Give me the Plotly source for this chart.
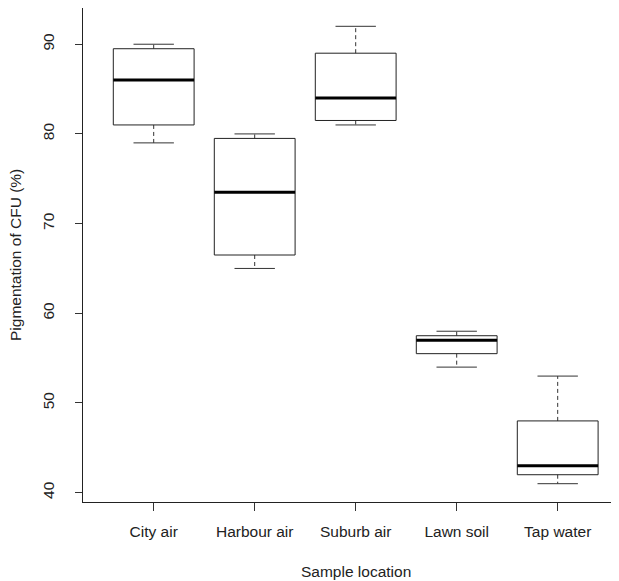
import plotly.graph_objects as go

categories = ["City air", "Harbour air", "Suburb air", "Lawn soil", "Tap water"]
whisker_low = [79, 65, 81, 54, 41]
q1 = [81, 66.5, 81.5, 55.5, 42]
median = [86, 73.5, 84, 57, 43]
q3 = [89.5, 79.5, 89, 57.5, 48]
whisker_high = [90, 80, 92, 58, 53]
y_ticks = [40, 50, 60, 70, 80, 90]

positions = list(range(1, len(categories) + 1))
box_half = 0.4
staple_half = 0.2

box_x, box_y = [], []
med_x, med_y = [], []
wh_x, wh_y = [], []
st_x, st_y = [], []
for p, lo, a, m, b, hi in zip(positions, whisker_low, q1, median, q3, whisker_high):
    box_x += [p - box_half, p + box_half, p + box_half, p - box_half, p - box_half, None]
    box_y += [a, a, b, b, a, None]
    med_x += [p - box_half, p + box_half, None]
    med_y += [m, m, None]
    wh_x += [p, p, None, p, p, None]
    wh_y += [b, hi, None, a, lo, None]
    st_x += [p - staple_half, p + staple_half, None, p - staple_half, p + staple_half, None]
    st_y += [hi, hi, None, lo, lo, None]

fig = go.Figure()
fig.add_trace(go.Scatter(x=wh_x, y=wh_y, mode="lines",
                         line=dict(color="#333333", width=1, dash="4px,3px"),
                         hoverinfo="skip", showlegend=False))
fig.add_trace(go.Scatter(x=st_x, y=st_y, mode="lines",
                         line=dict(color="#333333", width=1),
                         hoverinfo="skip", showlegend=False))
fig.add_trace(go.Scatter(x=box_x, y=box_y, mode="lines",
                         line=dict(color="#222222", width=1),
                         hoverinfo="skip", showlegend=False))
fig.add_trace(go.Scatter(x=med_x, y=med_y, mode="lines",
                         line=dict(color="black", width=3),
                         hoverinfo="skip", showlegend=False))

font = dict(family="Liberation Sans, Arial, sans-serif", size=15.5, color="#222222")

fig.update_layout(
    width=619, height=581,
    margin=dict(l=75, r=0, t=0, b=87),
    paper_bgcolor="white", plot_bgcolor="white",
    font=font,
    showlegend=False,
    xaxis=dict(range=[0.3, 0.3 + 544 / 101], tickmode="array", tickvals=positions,
               ticktext=categories, showgrid=False, zeroline=False,
               showline=True, mirror=True, linecolor="#222222", linewidth=1,
               ticks="outside", ticklen=8, tickcolor="#333333",
               ticklabelstandoff=7),
    yaxis=dict(range=[38.96, 94.04], tickmode="array", tickvals=y_ticks,
               ticktext=[str(v) for v in y_ticks], tickangle=-90,
               showgrid=False, zeroline=False,
               showline=True, mirror=False, linecolor="#222222", linewidth=1,
               ticks="outside", ticklen=7, tickcolor="#333333",
               ticklabelstandoff=15),
    annotations=[
        dict(text="Sample location", xref="x", yref="paper", x=3.0, y=-0.1417,
             xanchor="center", yanchor="middle", showarrow=False, font=font),
        dict(text="Pigmentation of CFU (%)", xref="paper", yref="paper",
             x=-0.125, y=0.5, xanchor="center", yanchor="middle",
             textangle=-90, showarrow=False, font=font),
    ],
)

fig.write_html("out.html")
